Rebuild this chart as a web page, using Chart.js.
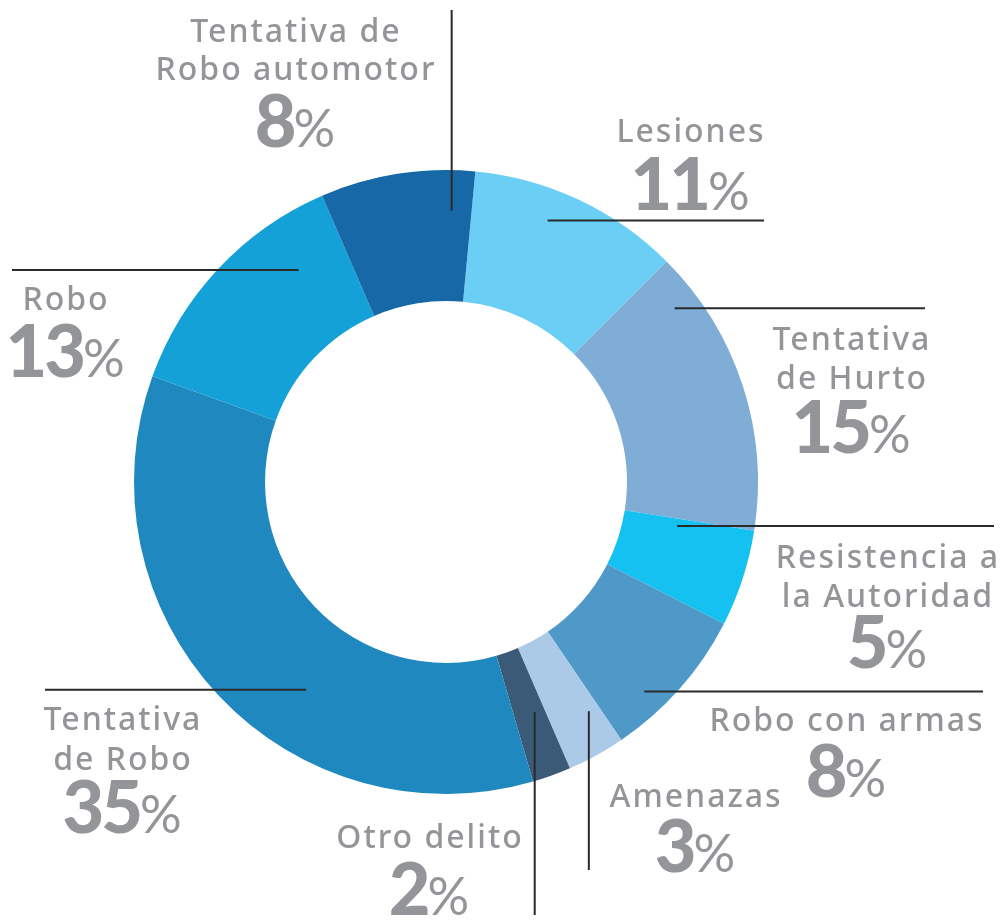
<!DOCTYPE html>
<html>
<head>
<meta charset="utf-8">
<script src="https://cdn.jsdelivr.net/npm/chart.js@4"></script>
<style>
  body { margin: 0; background: #fff; }
  #delitos { display: block; }
</style>
</head>
<body>
<canvas id="delitos" width="1006" height="920"></canvas>
<script>
const categories = [
  ['Lesiones'],
  ['Tentativa', 'de Hurto'],
  ['Resistencia a', 'la Autoridad'],
  ['Robo con armas'],
  ['Amenazas'],
  ['Otro delito'],
  ['Tentativa', 'de Robo'],
  ['Robo'],
  ['Tentativa de', 'Robo automotor']
];
const percents = [11, 15, 5, 8, 3, 2, 35, 13, 8];
const colors = ['#6BCEF5', '#7FADD5', '#14C1F1', '#4F99C9', '#AACAE7', '#3A5A78', '#1F88BF', '#14A1D8', '#1768A6'];

// where each label sits: leader line from a point inside the slice (t along arc, rad across ring)
const labelLayout = [
  { dir: 'h', t: 0.40, rad: 0.76, end: 764, cx: 690, base: [141.7, 210] },
  { dir: 'h', t: 0.144, rad: 0.81, end: 925, cx: 851, base: [350, 389.3, 453.3] },
  { dir: 'h', t: 0.10, rad: 0.415, end: 994, cx: 887, base: [568.3, 607, 668] },
  { dir: 'h', t: 0.68, rad: 0.82, end: 983, cx: 846, base: [730.7, 796.7] },
  { dir: 'v', t: 0.21, rad: 0.68, end: 870, cx: 695, base: [806.7, 871.7] },
  { dir: 'v', t: 0.32, rad: 0.50, end: 915, cx: 429, base: [848.3, 915] },
  { dir: 'h', t: 0.398, rad: 0.53, end: 45, cx: 122, base: [730, 770, 833.3] },
  { dir: 'h', t: 0.756, rad: 0.59, end: 12, cx: 65, base: [310, 376.7] },
  { dir: 'v', t: 0.854, rad: 0.69, end: 10, cx: 295, base: [41.7, 80, 146.7] }
];

const calloutPlugin = {
  id: 'callouts',
  afterDraw(chart) {
    const ctx = chart.ctx;
    const arcs = chart.getDatasetMeta(0).data;
    ctx.save();
    arcs.forEach((arc, i) => {
      const lay = labelLayout[i];
      const a = arc.startAngle + lay.t * (arc.endAngle - arc.startAngle);
      const r = arc.innerRadius + lay.rad * (arc.outerRadius - arc.innerRadius);
      const px = arc.x + r * Math.cos(a);
      const py = arc.y + r * Math.sin(a);

      ctx.strokeStyle = '#2a2a2a';
      ctx.lineWidth = 2;
      ctx.beginPath();
      ctx.moveTo(px, py);
      if (lay.dir === 'h') ctx.lineTo(lay.end, py);
      else ctx.lineTo(px, lay.end);
      ctx.stroke();

      ctx.fillStyle = '#939598';
      ctx.textBaseline = 'alphabetic';
      const lines = categories[i];
      ctx.font = '500 32px "Noto Sans"';
      ctx.letterSpacing = '2px';
      ctx.textAlign = 'center';
      lines.forEach((ln, k) => ctx.fillText(ln, lay.cx + 1, lay.base[k]));

      const num = String(percents[i]);
      const y = lay.base[lines.length];
      ctx.textAlign = 'left';
      ctx.font = '900 72px Lato';
      ctx.letterSpacing = '-3px';
      const wNum = ctx.measureText(num).width;
      ctx.letterSpacing = '0px';
      ctx.font = '400 52px Lato';
      const wPct = ctx.measureText('%').width;
      const x0 = lay.cx - (wNum + wPct) / 2;
      ctx.font = '900 72px Lato';
      ctx.letterSpacing = '-3px';
      ctx.fillText(num, x0, y);
      ctx.letterSpacing = '0px';
      ctx.font = '400 52px Lato';
      ctx.fillText('%', x0 + wNum, y);
    });
    ctx.restore();
  }
};

new Chart(document.getElementById('delitos').getContext('2d'), {
  type: 'doughnut',
  data: {
    labels: categories,
    datasets: [{
      data: percents,
      backgroundColor: colors,
      borderWidth: 0
    }]
  },
  options: {
    responsive: false,
    animation: false,
    rotation: 5.4,
    cutout: '58%',
    layout: { padding: { left: 134, right: 248, top: 170, bottom: 126 } },
    plugins: {
      legend: { display: false },
      tooltip: { enabled: false }
    }
  },
  plugins: [calloutPlugin]
});
</script>
</body>
</html>
